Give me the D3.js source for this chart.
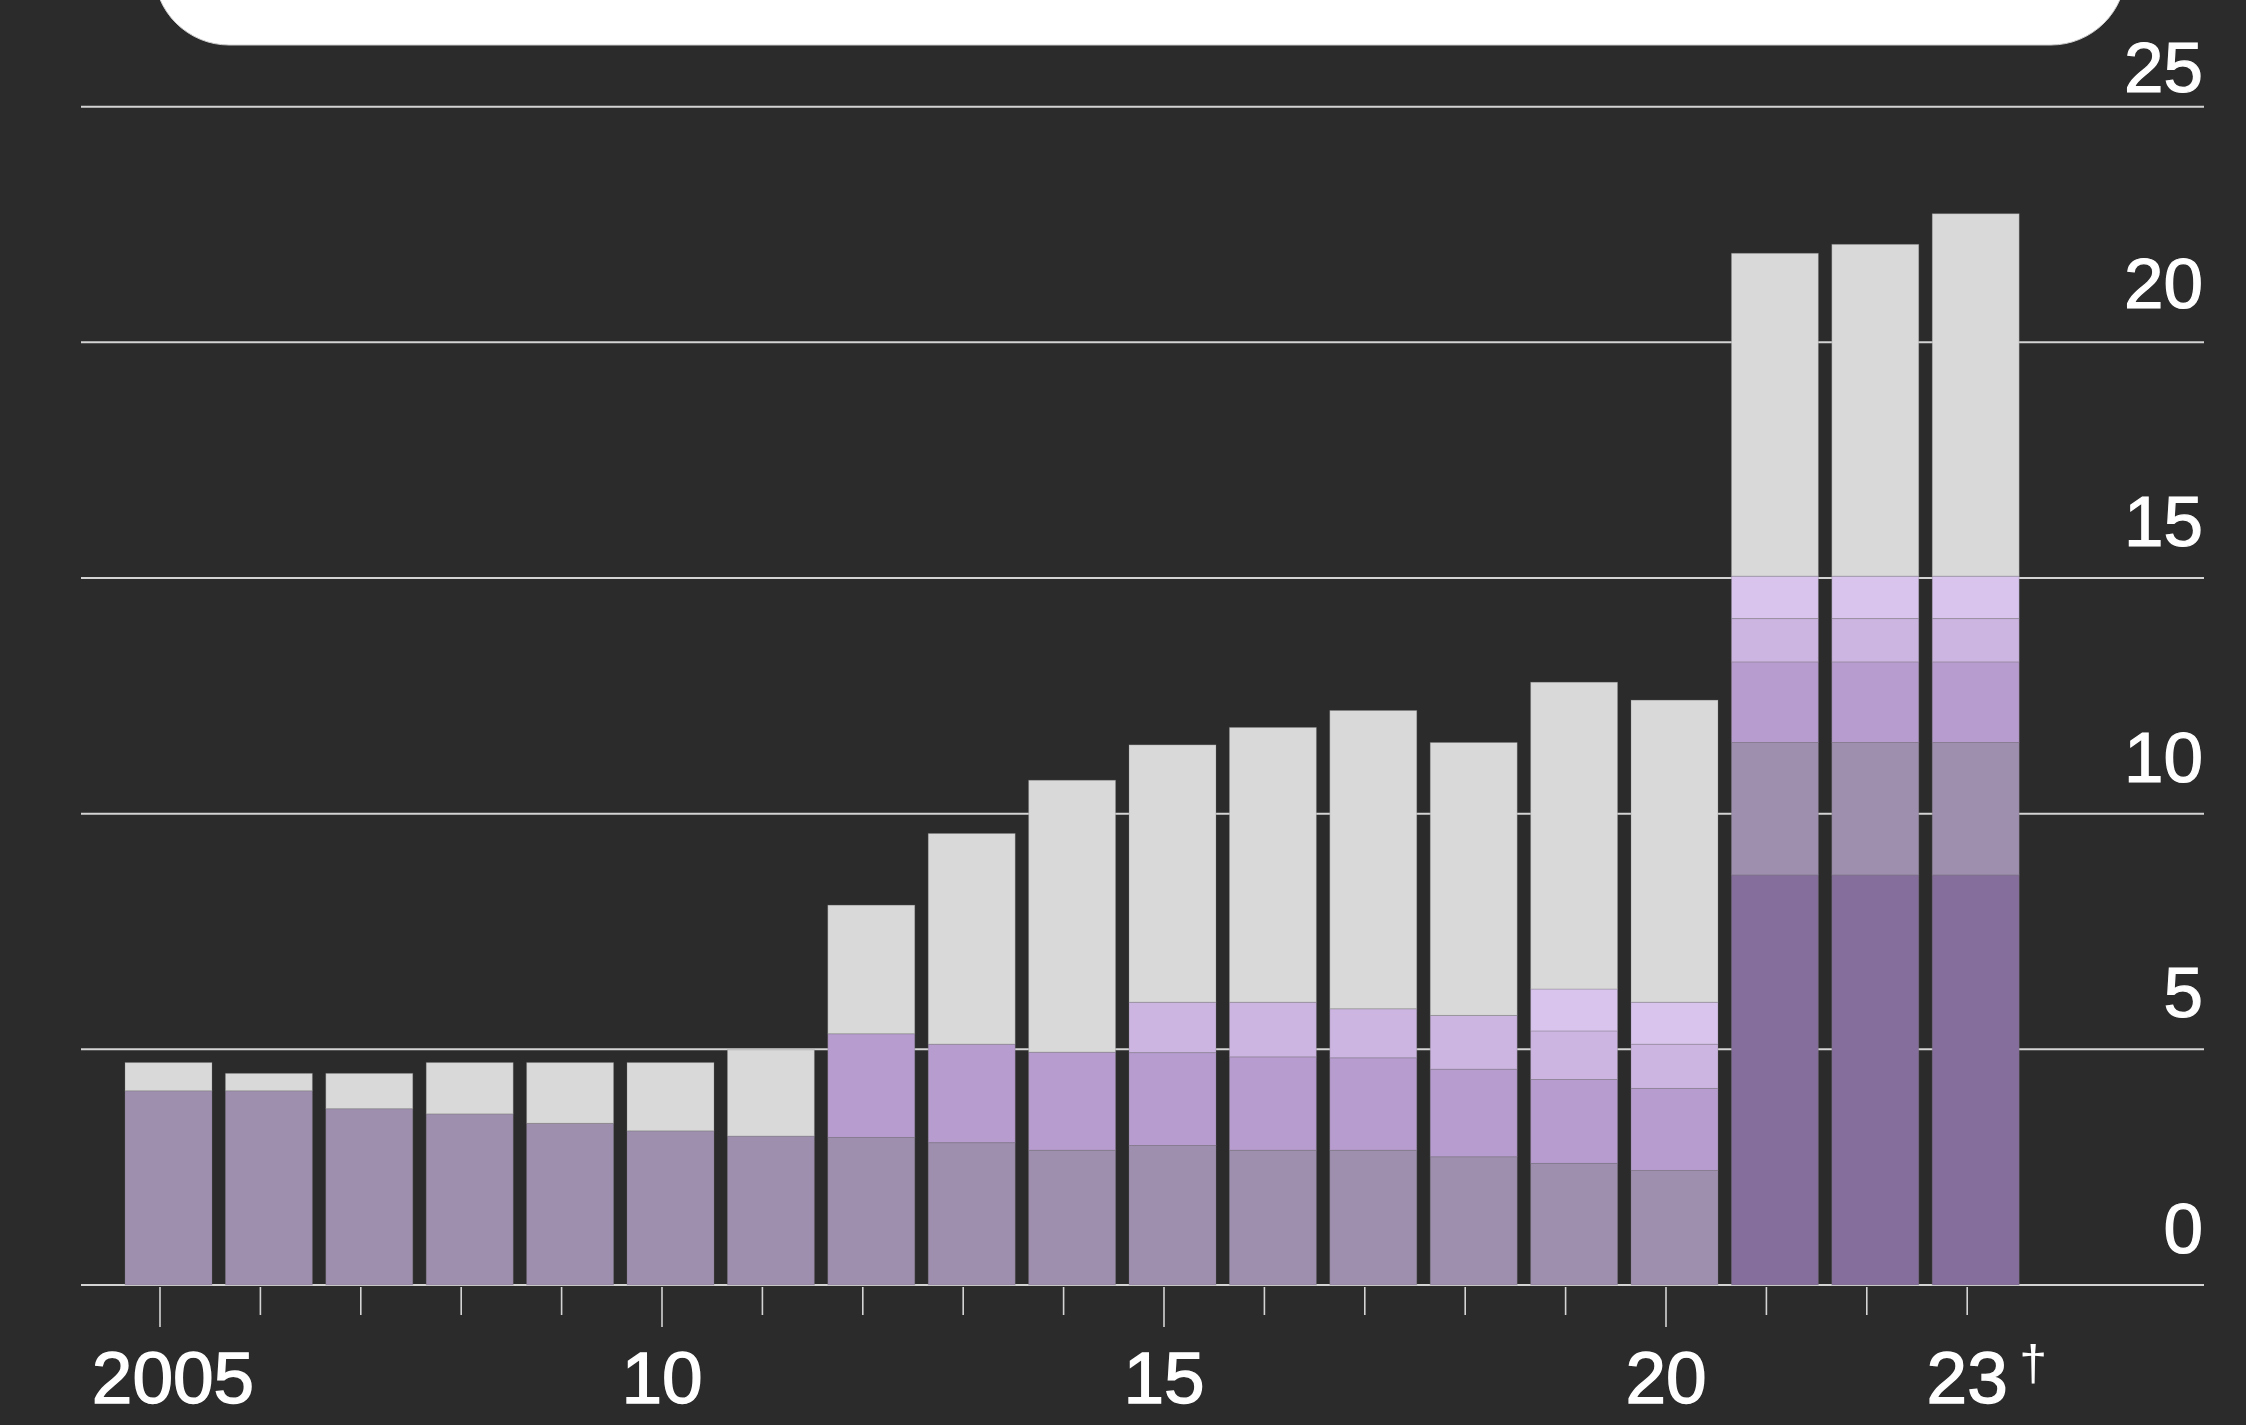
<!DOCTYPE html>
<html>
<head>
<meta charset="utf-8">
<script src="https://cdn.jsdelivr.net/npm/d3@7"></script>
<style>
  html, body { margin: 0; padding: 0; background: #2b2b2b; }
  svg { display: block; }
  text { font-family: "Liberation Sans", Arial, Helvetica, sans-serif; }
</style>
</head>
<body>
<svg id="chart" width="2246" height="1425"></svg>
<script>
// ---- Data ----
const years = [2005,2006,2007,2008,2009,2010,2011,2012,2013,2014,2015,2016,2017,2018,2019,2020,2021,2022,2023];
// stacked segments, bottom to top
const sDark      = [0,0,0,0,0,0,0,0,0,0,0,0,0,0,0,0,8.70,8.70,8.70];
const sGrayPurple= [4.12,4.12,3.74,3.63,3.43,3.27,3.16,3.13,3.02,2.86,2.96,2.86,2.86,2.72,2.58,2.43,2.81,2.81,2.81];
const sMid       = [0,0,0,0,0,0,0,2.20,2.09,2.08,1.97,1.98,1.96,1.86,1.78,1.74,1.71,1.71,1.71];
const sLight     = [0,0,0,0,0,0,0,0,0,0,1.07,1.16,1.04,1.14,1.03,0.94,0.92,0.92,0.92];
const sLightest  = [0,0,0,0,0,0,0,0,0,0,0,0,0,0,0.89,0.89,0.90,0.90,0.90];
const sGray      = [0.60,0.37,0.75,1.09,1.29,1.45,1.83,2.73,4.47,5.77,5.46,5.83,6.33,5.79,6.51,6.41,6.85,7.04,7.69];

const seriesKeys = ["dark","grayPurple","mid","light","lightest","gray"];
const seriesColors = ["#866e9c","#9f8faf","#b79ccf","#cdb5e2","#d9c4ee","#d9d9d9"];

const yTicks = [0,5,10,15,20,25];
const yTickLabels = ["0","5","10","15","20","25"];
const xLabelYears = [2005,2010,2015,2020,2023];
const xLabels = ["2005","10","15","20","23"];
const majorTickYears = [2005,2010,2015,2020];

// ---- Build table ----
const table = years.map((y, i) => ({
  year: y,
  dark: sDark[i], grayPurple: sGrayPurple[i], mid: sMid[i],
  light: sLight[i], lightest: sLightest[i], gray: sGray[i]
}));

const svg = d3.select("#chart");
svg.append("rect").attr("width", 2246).attr("height", 1425).attr("fill", "#2b2b2b");

// white rounded panel at the top (clipped by the top edge)
svg.append("rect")
  .attr("x", 154).attr("y", -300)
  .attr("width", 1972).attr("height", 345)
  .attr("rx", 75).attr("ry", 75)
  .attr("fill", "#ffffff")
  .attr("stroke", "#cfcfcf").attr("stroke-width", 1);

// ---- Scales ----
const x = d3.scaleBand().domain(years).range([125, 2019.2]).paddingInner(0.1335).paddingOuter(0);
const y = d3.scaleLinear().domain([0, 25]).range([1285, 106.7]);
const tickX = yr => x(yr) + x.bandwidth() / 2 - 8.5;

// ---- Gridlines ----
svg.append("g").selectAll("line")
  .data(yTicks).join("line")
  .attr("x1", 81).attr("x2", 2204)
  .attr("y1", d => y(d)).attr("y2", d => y(d))
  .attr("stroke", "#d4d4d4").attr("stroke-width", 2);

// ---- Y labels (right side, above gridlines) ----
const yLabelOffset = v => v === 25 ? -15 : (v === 20 ? -34 : -32);
svg.append("g").selectAll("text")
  .data(yTicks).join("text")
  .attr("x", 2203)
  .attr("y", d => y(d) + yLabelOffset(d))
  .attr("text-anchor", "end")
  .attr("fill", "#ffffff")
  .attr("stroke", "#ffffff").attr("stroke-width", 1.2)
  .attr("font-size", 71)
  .text((d, i) => yTickLabels[i]);

// ---- Stacked bars ----
const stack = d3.stack().keys(seriesKeys);
const stacked = stack(table);

svg.append("g").selectAll("g")
  .data(stacked).join("g")
  .attr("fill", (d, i) => seriesColors[i])
  .selectAll("rect")
  .data(d => d.filter(p => p[1] - p[0] > 0))
  .join("rect")
  .attr("x", d => x(d.data.year))
  .attr("width", x.bandwidth())
  .attr("y", d => y(d[1]))
  .attr("height", d => y(d[0]) - y(d[1]))
  .attr("stroke", "rgba(120,120,120,0.3)")
  .attr("stroke-width", 1);

// ---- X ticks ----
svg.append("g").selectAll("line")
  .data(years).join("line")
  .attr("x1", d => tickX(d)).attr("x2", d => tickX(d))
  .attr("y1", 1287)
  .attr("y2", d => majorTickYears.includes(d) ? 1327 : 1315)
  .attr("stroke", "#d4d4d4").attr("stroke-width", 1.6);

// ---- X labels ----
svg.append("g").selectAll("text")
  .data(xLabelYears).join("text")
  .attr("x", d => tickX(d) + (d === 2005 ? 13 : 0))
  .attr("y", 1403)
  .attr("text-anchor", "middle")
  .attr("fill", "#ffffff")
  .attr("stroke", "#ffffff").attr("stroke-width", 1.4)
  .attr("font-size", 73)
  .text((d, i) => xLabels[i]);

// dagger after the last label
svg.append("text")
  .attr("x", tickX(2023) + 52)
  .attr("y", 1380)
  .attr("text-anchor", "start")
  .attr("fill", "#ffffff")
  .attr("font-size", 50)
  .text("\u2020");
</script>
</body>
</html>
